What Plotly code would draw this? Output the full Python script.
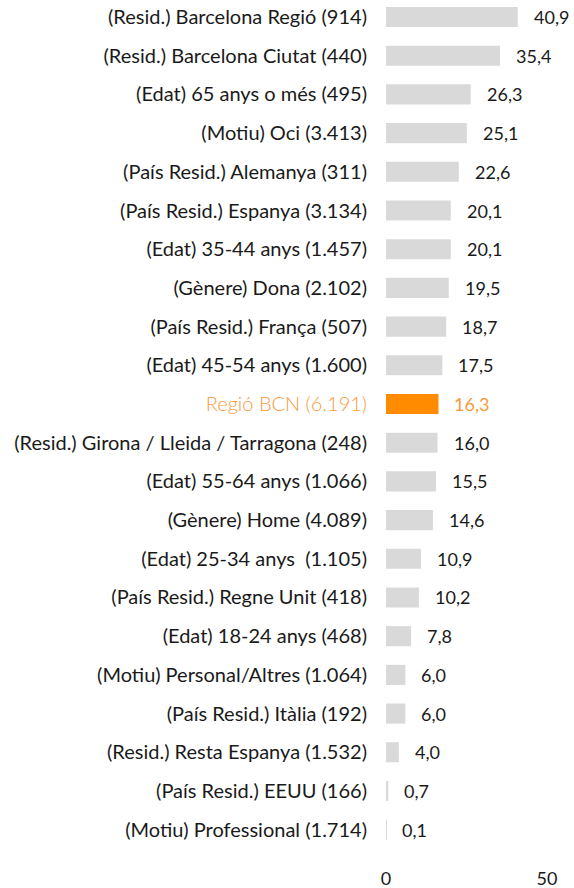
import plotly.graph_objects as go

categories = [
    "(Resid.) Barcelona Regió (914)",
    "(Resid.) Barcelona Ciutat (440)",
    "(Edat) 65 anys o més (495)",
    "(Motiu) Oci (3.413)",
    "(País Resid.) Alemanya (311)",
    "(País Resid.) Espanya (3.134)",
    "(Edat) 35-44 anys (1.457)",
    "(Gènere) Dona (2.102)",
    "(País Resid.) França (507)",
    "(Edat) 45-54 anys (1.600)",
    "Regió BCN (6.191)",
    "(Resid.) Girona / Lleida / Tarragona (248)",
    "(Edat) 55-64 anys (1.066)",
    "(Gènere) Home (4.089)",
    "(Edat) 25-34 anys  (1.105)",
    "(País Resid.) Regne Unit (418)",
    "(Edat) 18-24 anys (468)",
    "(Motiu) Personal/Altres (1.064)",
    "(País Resid.) Itàlia (192)",
    "(Resid.) Resta Espanya (1.532)",
    "(País Resid.) EEUU (166)",
    "(Motiu) Professional (1.714)",
]
values = [40.9, 35.4, 26.3, 25.1, 22.6, 20.1, 20.1, 19.5, 18.7, 17.5, 16.3,
          16.0, 15.5, 14.6, 10.9, 10.2, 7.8, 6.0, 6.0, 4.0, 0.7, 0.1]
highlight = "Regió BCN (6.191)"
x_ticks = [0, 50]

GRAY = "#d9d9d9"
ORANGE_BAR = "#ff8c00"
ORANGE_TXT = "#f79a3e"
TXT = "#1a1a1a"
FONT = "Lato"
FS_CAT = 20
FS_VAL = 18

bar_colors = [ORANGE_BAR if c == highlight else GRAY for c in categories]
ticktext = [
    f'<span style="color:{ORANGE_TXT};font-weight:300">{c}</span>' if c == highlight else c
    for c in categories
]

fig = go.Figure()
fig.add_trace(go.Bar(
    x=values, y=categories, orientation="h",
    marker=dict(color=bar_colors, line=dict(width=0)),
    width=0.52, hoverinfo="skip",
))

for c, v in zip(categories, values):
    fig.add_annotation(
        x=v, y=c, xref="x", yref="y",
        text=f"{v:.1f}".replace(".", ","),
        showarrow=False, xanchor="left", yanchor="middle", xshift=14,
        font=dict(family=FONT, size=FS_VAL,
                  color=ORANGE_TXT if c == highlight else TXT),
    )

fig.update_layout(
    width=574, height=888,
    margin=dict(l=386, r=27, t=0, b=39),
    paper_bgcolor="white", plot_bgcolor="white",
    showlegend=False,
    font=dict(family=FONT, size=FS_VAL, color=TXT),
    xaxis=dict(range=[0, 50], tickvals=x_ticks, ticktext=[str(t) for t in x_ticks],
               showgrid=False, zeroline=False, showline=False, ticks="",
               ticklabelstandoff=17, fixedrange=True,
               tickfont=dict(family=FONT, size=FS_VAL, color=TXT)),
    yaxis=dict(type="category", categoryorder="array", categoryarray=categories,
               tickvals=categories, ticktext=ticktext,
               range=[21.5, -0.44], showgrid=False, zeroline=False,
               showline=False, ticks="", ticklabelstandoff=18, fixedrange=True,
               tickfont=dict(family=FONT, size=FS_CAT, color=TXT)),
)

fig.write_html("out.html", config={"displayModeBar": False},
               post_script="document.body.style.margin='0';")
